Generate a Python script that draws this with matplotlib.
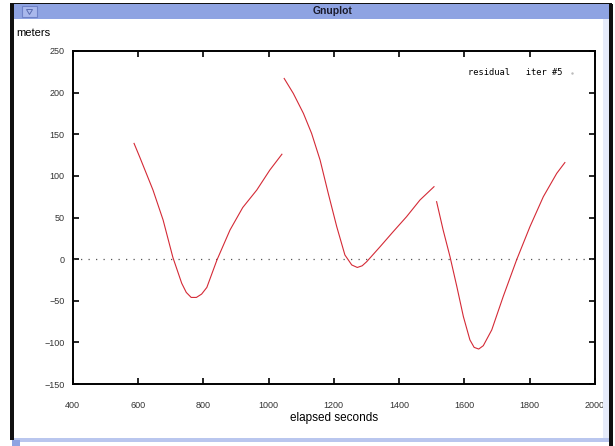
import matplotlib.pyplot as plt
from matplotlib.patches import Rectangle, Polygon

# elapsed seconds / residual (meters), three passes
seg1_t = [588, 606, 646, 677, 707, 734, 748, 763, 779, 795, 811, 842, 882, 921, 964, 1004, 1041]
seg1_r = [139, 122, 83, 47, 2, -29, -40, -46, -46, -42, -34, -1, 35, 62, 83, 107, 126]

seg2_t = [1048, 1076, 1107, 1132, 1158, 1183, 1209, 1234, 1255, 1272, 1287, 1301, 1342, 1382, 1423, 1464, 1507]
seg2_r = [217, 199, 175, 151, 119, 79, 39, 5, -7, -10, -8, -3, 15, 33, 51, 71, 87]

seg3_t = [1515, 1535, 1556, 1577, 1597, 1617, 1630, 1644, 1658, 1684, 1719, 1760, 1801, 1842, 1883, 1908]
seg3_r = [69, 35, 3, -33, -69, -97, -106, -108, -104, -85, -45, -1, 39, 75, 103, 116]

x_ticks = [400, 600, 800, 1000, 1200, 1400, 1600, 1800, 2000]
y_ticks = [-150, -100, -50, 0, 50, 100, 150, 200, 250]

W, H = 615, 446
CURVE_COLOR = "#d42a36"
FRAME_BLUE = "#8ea3e2"


def px_box(x0, y0, x1, y1):
    # pixel box (top-left origin) -> figure fraction rect
    return (x0 / W, 1 - y1 / H, (x1 - x0) / W, (y1 - y0) / H)


plt.rcParams["font.family"] = ["Liberation Sans", "DejaVu Sans"]
fig = plt.figure(figsize=(W / 100, H / 100), dpi=100)
fig.patch.set_facecolor("white")

# window chrome
for (x0, y0, x1, y1), col in [
    ((10, 3, 612, 5), "#111111"),
    ((10, 3, 14, 440), "#111111"),
    ((14, 4, 609, 19), FRAME_BLUE),
    ((609, 4, 613, 446), "#111111"),
    ((603, 19, 609, 442), "#e6ebfa"),
    ((14, 438, 609, 442), "#b9c6ee"),
    ((12, 440, 20, 446), FRAME_BLUE),
]:
    x, y, w, h = px_box(x0, y0, x1, y1)
    fig.patches.append(Rectangle((x, y), w, h, transform=fig.transFigure,
                                 facecolor=col, edgecolor="none", zorder=0))
bx, by, bw, bh = px_box(22, 6, 37, 17)
fig.patches.append(Rectangle((bx, by), bw, bh, transform=fig.transFigure,
                             facecolor="#a9b8ec", edgecolor="#6f82c8", lw=0.8))
tx, ty = 29.5 / W, 1 - 11.5 / H
fig.patches.append(Polygon([(tx - 3 / W, ty + 2 / H), (tx + 3 / W, ty + 2 / H), (tx, ty - 3 / H)],
                           closed=True, transform=fig.transFigure,
                           facecolor="none", edgecolor="#5a6cb0", lw=0.7))
fig.text(333 / W, 1 - 11.5 / H, "Gnuplot", ha="center", va="center",
         fontsize=7.5, fontweight="bold", color="#1a1a2a")

fig.text(16 / W, 1 - 33 / H, "meters", ha="left", va="center", fontsize=8, color="black")

ax = fig.add_axes([72.7 / W, 1 - 384 / H, (594.9 - 72.7) / W, (384 - 51) / H])
ax.axhline(0, color="#555555", lw=0.9, linestyle=(0, (1, 5)))
for t, r in [(seg1_t, seg1_r), (seg2_t, seg2_r), (seg3_t, seg3_r)]:
    ax.plot(t, r, color=CURVE_COLOR, lw=0.8)

ax.set_xlim(400, 2000)
ax.set_ylim(-150, 250)
ax.set_xticks(x_ticks)
ax.set_yticks(y_ticks)
ax.tick_params(direction="in", length=4, width=1.2, top=True, right=True,
               labelsize=6.5, labelcolor="#333333")
ax.tick_params(axis="x", pad=12)
ax.tick_params(axis="y", pad=6)
for sp in ax.spines.values():
    sp.set_linewidth(1.4)
ax.set_xlabel("elapsed seconds", fontsize=8.5, labelpad=2)

ax.text(0.937, 0.934, "residual   iter #5", transform=ax.transAxes, ha="right", va="center",
        fontsize=6.3, family="DejaVu Sans Mono", color="black")
ax.plot([0.957], [0.934], marker=".", ms=1.5, color="#bbbbbb", transform=ax.transAxes)

fig.savefig("out.png", dpi=100)
